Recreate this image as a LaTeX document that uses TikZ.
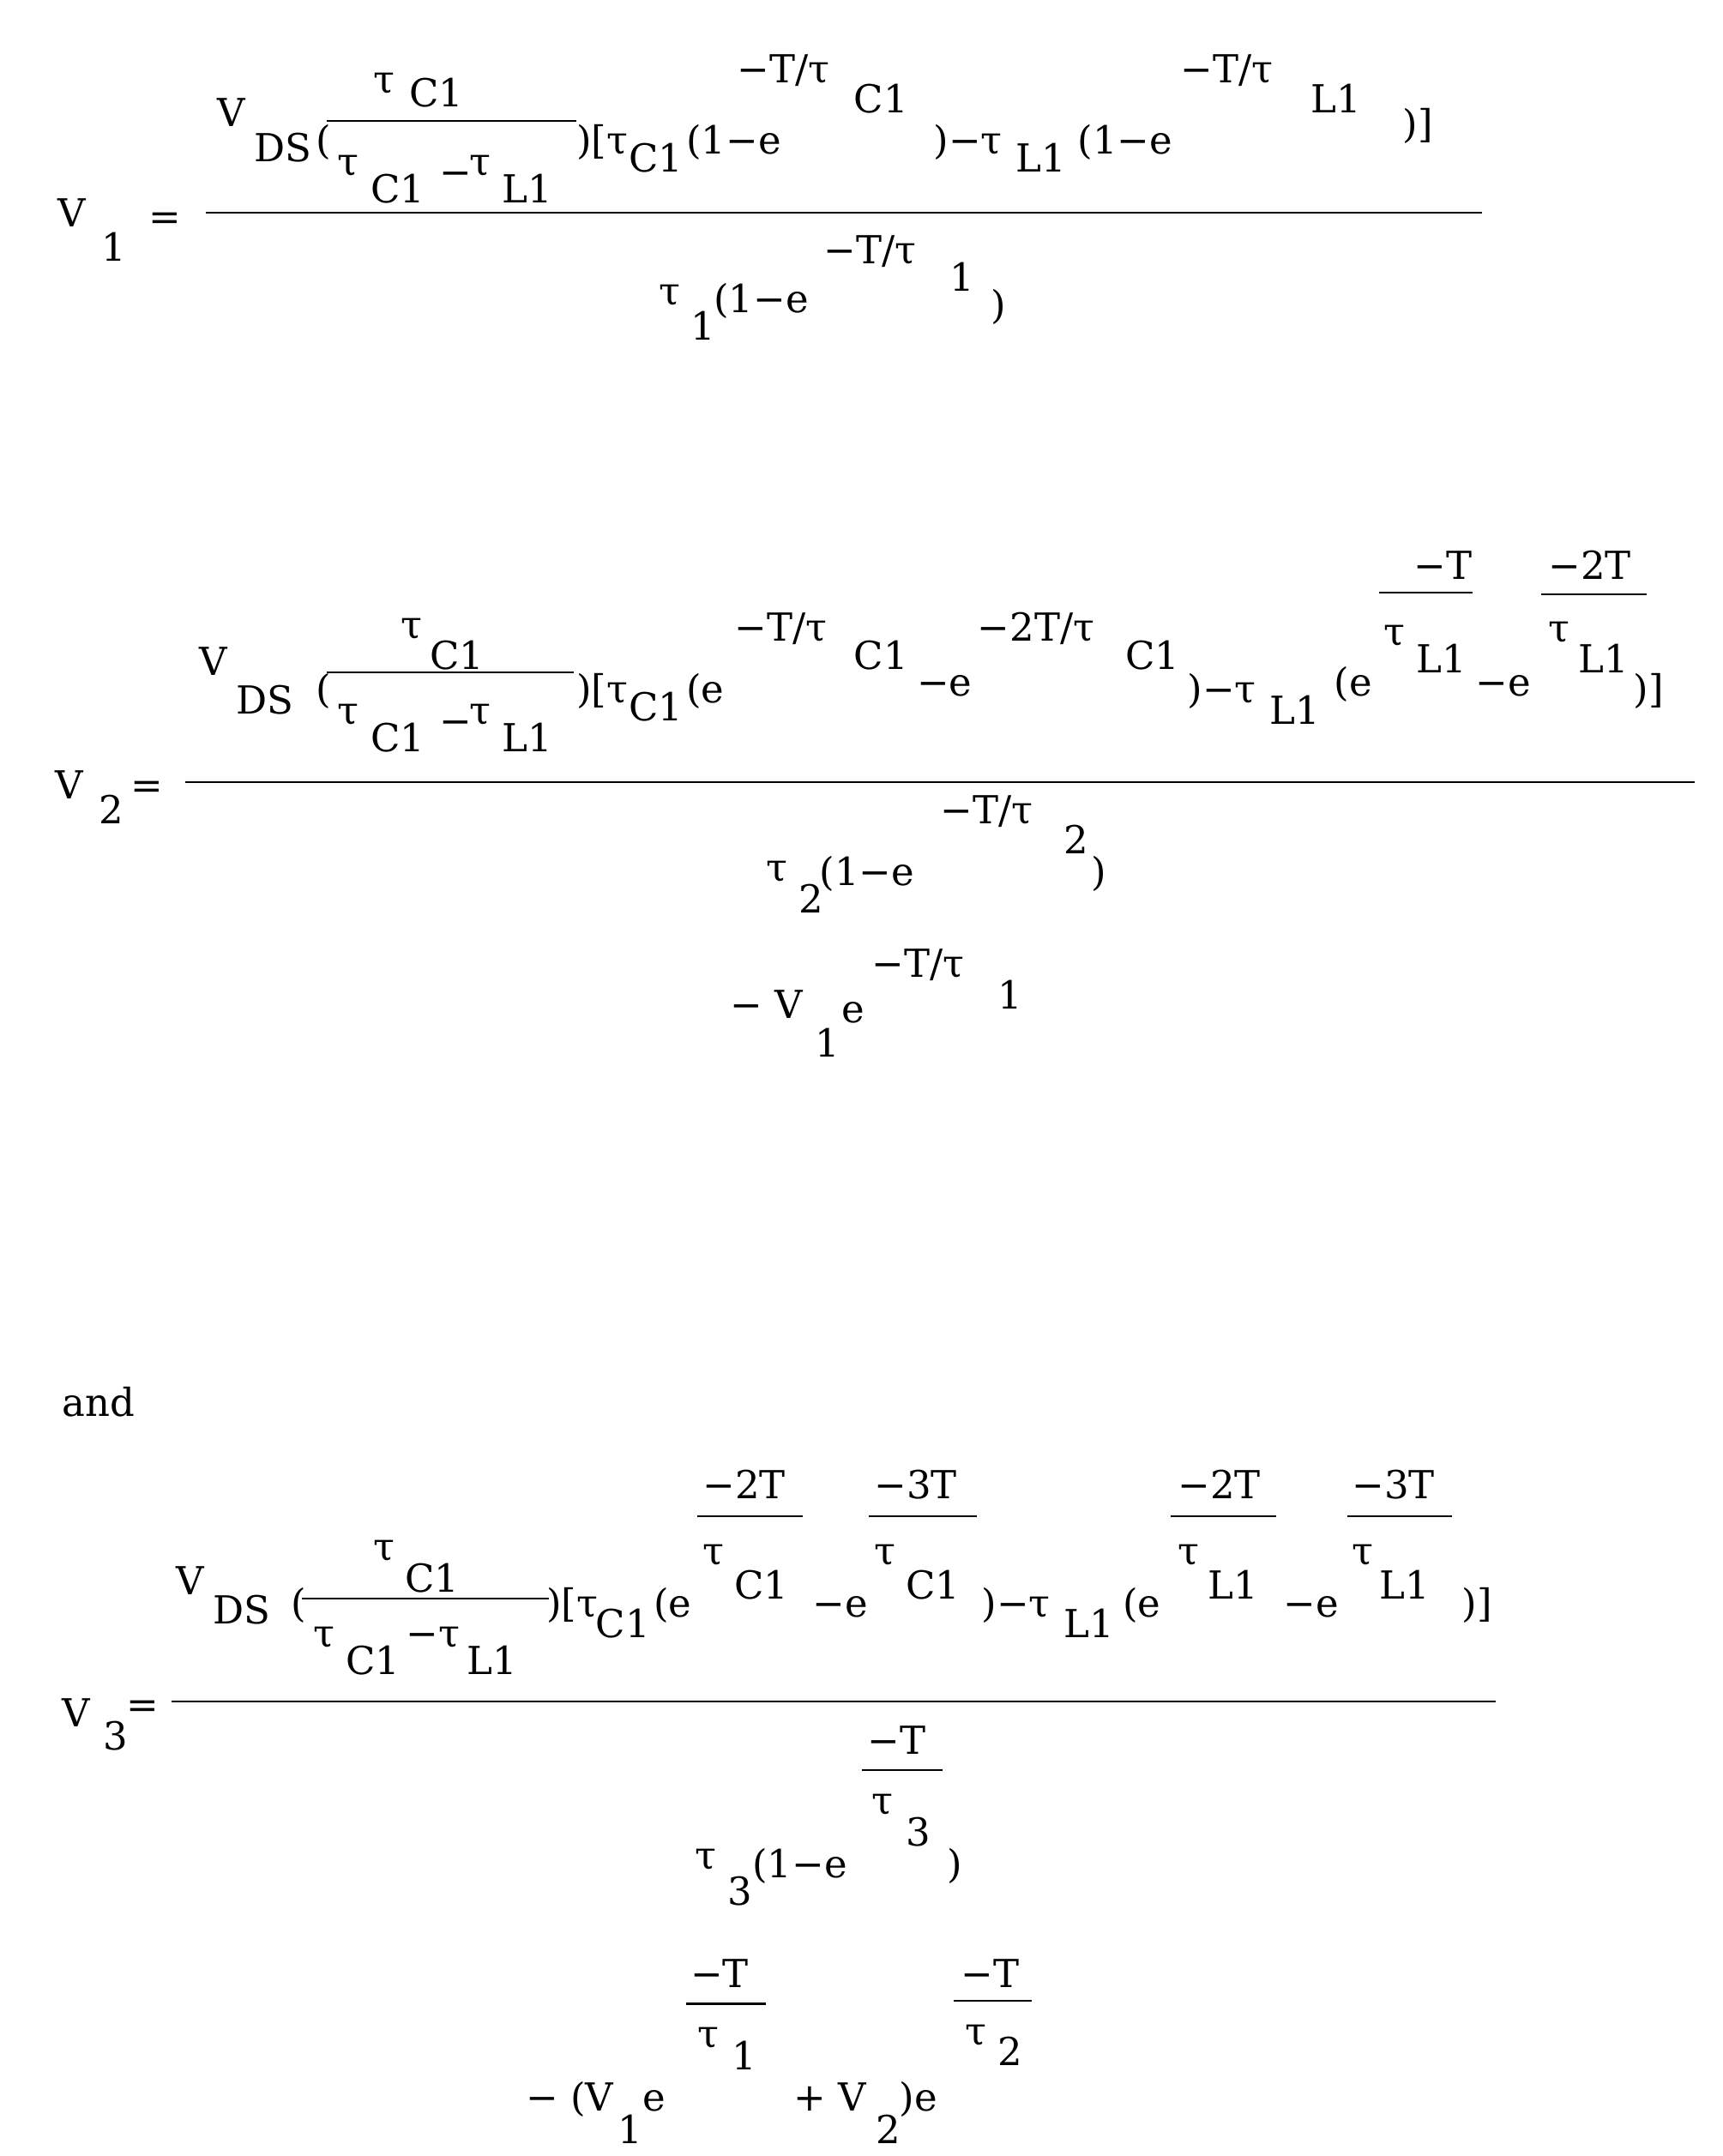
\documentclass[tikz,border=0pt]{standalone}
\usepackage{fontspec}
\setmainfont{DejaVu Serif}
\newcommand\tx[3]{\node[t] at (#1,#2) {#3};}
\newcommand\hb[4]{\draw[barl] (#1,#2) -- (#3,#4);}
\begin{document}
\begin{tikzpicture}[x=0.04cm,y=-0.04cm,
 t/.style={anchor=base west,inner sep=0pt,font=\fontsize{32}{32}\selectfont},
 barl/.style={line width=1.6pt}]
\useasboundingbox[fill=white] (0,0) rectangle (1255,1571);
% ---- Eq 1
\tx{272}{68}{τ}\tx{298}{78}{C1}
\tx{158}{92}{V}\tx{185}{118}{DS}\tx{230}{112}{(}
\hb{238}{88}{420}{88}
\tx{246}{128}{τ}\tx{270}{148}{C1}\tx{320}{135}{−}\tx{342}{128}{τ}\tx{366}{148}{L1}
\tx{420}{112}{)[τ}\tx{458}{125}{C1}\tx{500}{112}{(1−e}
\tx{537}{60}{−T/τ}\tx{622}{82}{C1}\tx{680}{112}{)−τ}\tx{740}{125}{L1}\tx{785}{112}{(1−e}
\tx{860}{60}{−T/τ}\tx{955}{82}{L1}\tx{1022}{100}{)]}
\tx{42}{165}{V}\tx{74}{190}{1}\tx{108}{168}{=}
\hb{150}{155}{1080}{155}
\tx{480}{222}{τ}\tx{503}{248}{1}\tx{520}{228}{(1−e}
\tx{600}{192}{−T/τ}\tx{692}{212}{1}\tx{722}{232}{)}
% ---- Eq 2
\tx{292}{465}{τ}\tx{313}{488}{C1}
\tx{145}{492}{V}\tx{172}{520}{DS}\tx{230}{512}{(}
\hb{238}{490}{418}{490}
\tx{246}{528}{τ}\tx{270}{548}{C1}\tx{320}{535}{−}\tx{342}{528}{τ}\tx{366}{548}{L1}
\tx{420}{512}{)[τ}\tx{458}{525}{C1}\tx{500}{512}{(e}
\tx{535}{467}{−T/τ}\tx{622}{488}{C1}\tx{668}{507}{−e}
\tx{712}{467}{−2T/τ}\tx{820}{488}{C1}\tx{865}{512}{)−τ}\tx{925}{528}{L1}\tx{972}{507}{(e}
\tx{1030}{422}{−T}\hb{1005}{432}{1073}{432}\tx{1008}{470}{τ}\tx{1032}{490}{L1}
\tx{1075}{507}{−e}
\tx{1128}{422}{−2T}\hb{1123}{433}{1200}{433}\tx{1128}{468}{τ}\tx{1150}{490}{L1}
\tx{1190}{512}{)]}
\tx{40}{582}{V}\tx{72}{600}{2}\tx{95}{582}{=}
\hb{135}{570}{1235}{570}
\tx{558}{642}{τ}\tx{582}{665}{2}\tx{597}{645}{(1−e}
\tx{685}{600}{−T/τ}\tx{775}{622}{2}\tx{795}{645}{)}
\tx{532}{742}{− V}\tx{594}{770}{1}\tx{613}{745}{e}
\tx{635}{712}{−T/τ}\tx{727}{735}{1}
% ---- Eq 3
\tx{45}{1032}{and}
\tx{272}{1137}{τ}\tx{295}{1160}{C1}
\tx{128}{1162}{V}\tx{155}{1183}{DS}\tx{212}{1178}{(}
\hb{220}{1165}{400}{1165}
\tx{228}{1200}{τ}\tx{252}{1220}{C1}\tx{296}{1200}{−τ}\tx{340}{1220}{L1}
\tx{398}{1178}{)[τ}\tx{434}{1193}{C1}\tx{476}{1178}{(e}
\tx{512}{1092}{−2T}\hb{508}{1105}{585}{1105}\tx{512}{1140}{τ}\tx{535}{1165}{C1}
\tx{592}{1178}{−e}
\tx{637}{1092}{−3T}\hb{633}{1105}{712}{1105}\tx{637}{1140}{τ}\tx{660}{1165}{C1}
\tx{715}{1178}{)−τ}\tx{775}{1193}{L1}\tx{818}{1178}{(e}
\tx{858}{1092}{−2T}\hb{853}{1105}{930}{1105}\tx{858}{1140}{τ}\tx{880}{1165}{L1}
\tx{935}{1178}{−e}
\tx{985}{1092}{−3T}\hb{982}{1105}{1058}{1105}\tx{985}{1140}{τ}\tx{1005}{1165}{L1}
\tx{1065}{1178}{)]}
\tx{45}{1258}{V}\tx{75}{1275}{3}\tx{92}{1252}{=}
\hb{125}{1240}{1090}{1240}
\tx{632}{1278}{−T}\hb{628}{1290}{687}{1290}\tx{635}{1322}{τ}\tx{660}{1345}{3}
\tx{506}{1362}{τ}\tx{530}{1388}{3}\tx{548}{1368}{(1−e}\tx{690}{1368}{)}
\tx{503}{1448}{−T}\hb{500}{1460}{558}{1460}\tx{508}{1492}{τ}\tx{533}{1508}{1}
\tx{383}{1538}{− (V}\tx{450}{1562}{1}\tx{468}{1538}{e}
\tx{578}{1538}{+ V}\tx{638}{1562}{2}\tx{655}{1538}{)e}
\tx{700}{1448}{−T}\hb{695}{1458}{752}{1458}\tx{703}{1490}{τ}\tx{727}{1505}{2}
\end{tikzpicture}
\end{document}
